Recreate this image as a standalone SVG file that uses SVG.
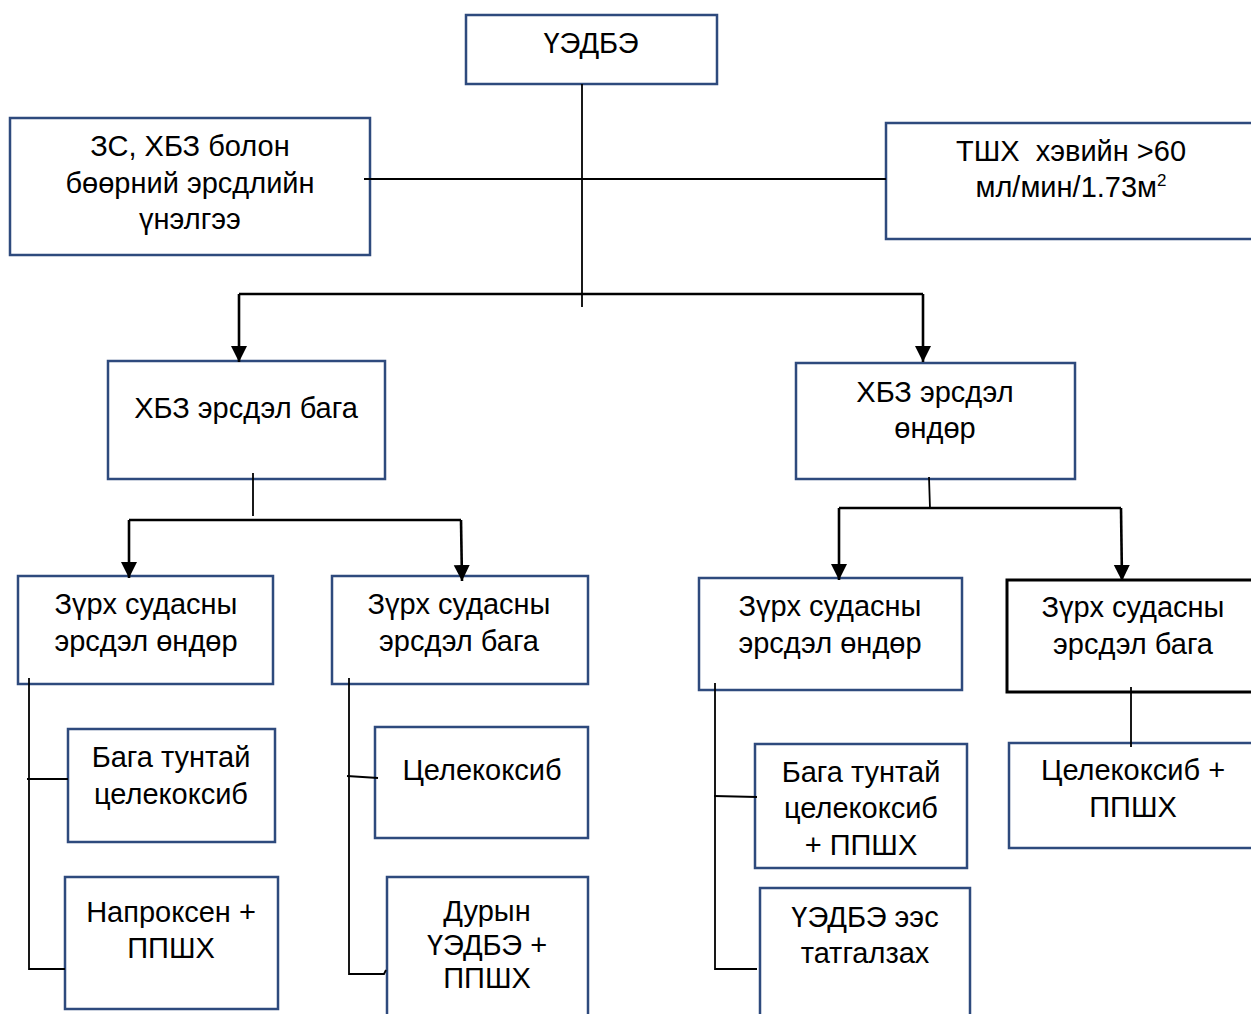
<svg xmlns="http://www.w3.org/2000/svg" width="1251" height="1014" viewBox="0 0 1251 1014">
<style>
.box{fill:#fff;stroke:#2E4A7D;stroke-width:2.5}
.bbox{fill:#fff;stroke:#000;stroke-width:3}
.t{font-family:"Liberation Sans",Arial,sans-serif;font-size:29px;fill:#000;text-anchor:middle}
.thin{fill:none;stroke:#000;stroke-width:1.8}
.thick{fill:none;stroke:#000;stroke-width:2.6}
</style>
<defs>
<marker id="arr" markerUnits="userSpaceOnUse" markerWidth="16" markerHeight="17" refX="16" refY="8" orient="auto" viewBox="0 0 16 16">
<path d="M0,0 L16,8 L0,16 z" fill="#000"/>
</marker>
</defs>
<rect width="1251" height="1014" fill="#fff"/>
<g id="n-nsaid">
<rect class="box" x="466" y="15" width="251" height="69"/>
<text class="t" x="591" y="53">ҮЭДБЭ</text>
</g>
<g id="n-assess">
<rect class="box" x="10" y="118" width="360" height="137"/>
<text class="t" x="190" y="156">ЗС, ХБЗ болон</text>
<text class="t" x="190" y="193">бөөрний эрсдлийн</text>
<text class="t" x="190" y="229">үнэлгээ</text>
</g>
<g id="n-gfr">
<rect class="box" x="886" y="123" width="380" height="116"/>
<text class="t" x="1071" y="161" xml:space="preserve">ТШХ  хэвийн &gt;60</text>
<text class="t" x="1071" y="197">мл/мин/1.73м<tspan font-size="17" dy="-11">2</tspan></text>
</g>
<g id="n-gi-low">
<rect class="box" x="108" y="361" width="277" height="118"/>
<text class="t" x="246" y="418">ХБЗ эрсдэл бага</text>
</g>
<g id="n-gi-high">
<rect class="box" x="796" y="363" width="279" height="116"/>
<text class="t" x="935" y="402">ХБЗ эрсдэл</text>
<text class="t" x="935" y="438">өндөр</text>
</g>
<g id="n-cv-high-1">
<rect class="box" x="18" y="576" width="255" height="108"/>
<text class="t" x="146" y="614">Зүрх судасны</text>
<text class="t" x="146" y="651">эрсдэл өндөр</text>
</g>
<g id="n-cv-low-1">
<rect class="box" x="332" y="576" width="256" height="108"/>
<text class="t" x="459" y="614">Зүрх судасны</text>
<text class="t" x="459" y="651">эрсдэл бага</text>
</g>
<g id="n-cv-high-2">
<rect class="box" x="699" y="578" width="263" height="112"/>
<text class="t" x="830" y="616">Зүрх судасны</text>
<text class="t" x="830" y="653">эрсдэл өндөр</text>
</g>
<g id="n-cv-low-2">
<rect class="bbox" x="1007" y="580" width="260" height="112"/>
<text class="t" x="1133" y="617">Зүрх судасны</text>
<text class="t" x="1133" y="654">эрсдэл бага</text>
</g>
<g id="n-lowdose-celecoxib">
<rect class="box" x="68" y="729" width="207" height="113"/>
<text class="t" x="171" y="767">Бага тунтай</text>
<text class="t" x="171" y="804">целекоксиб</text>
</g>
<g id="n-naproxen">
<rect class="box" x="65" y="877" width="213" height="132"/>
<text class="t" x="171" y="922">Напроксен +</text>
<text class="t" x="171" y="958">ППШХ</text>
</g>
<g id="n-celecoxib">
<rect class="box" x="375" y="727" width="213" height="111"/>
<text class="t" x="482" y="780">Целекоксиб</text>
</g>
<g id="n-any-nsaid">
<rect class="box" x="387" y="877" width="201" height="140"/>
<text class="t" x="487" y="921">Дурын</text>
<text class="t" x="487" y="955">ҮЭДБЭ +</text>
<text class="t" x="487" y="988">ППШХ</text>
</g>
<g id="n-lowdose-celecoxib-ppi">
<rect class="box" x="755" y="744" width="212" height="124"/>
<text class="t" x="861" y="782">Бага тунтай</text>
<text class="t" x="861" y="818">целекоксиб</text>
<text class="t" x="861" y="855">+ ППШХ</text>
</g>
<g id="n-avoid">
<rect class="box" x="760" y="888" width="210" height="140"/>
<text class="t" x="865" y="927">ҮЭДБЭ ээс</text>
<text class="t" x="865" y="963">татгалзах</text>
</g>
<g id="n-celecoxib-ppi">
<rect class="box" x="1009" y="743" width="260" height="105"/>
<text class="t" x="1133" y="780">Целекоксиб +</text>
<text class="t" x="1133" y="817">ППШХ</text>
</g>
<g id="connectors">
<path class="thin" d="M582 84 V307"/>
<path class="thin" d="M364 179 H886"/>
<path class="thick" d="M239 294 H923"/>
<path class="thick" d="M239 294 V362" marker-end="url(#arr)"/>
<path class="thick" d="M923 294 V362" marker-end="url(#arr)"/>
<path class="thin" d="M253 473 V516"/>
<path class="thick" d="M129 520 H461"/>
<path class="thick" d="M129 520 V578" marker-end="url(#arr)"/>
<path class="thick" d="M461 520 L462 581" marker-end="url(#arr)"/>
<path class="thin" d="M929 477 L930 509"/>
<path class="thick" d="M839 508 H1121"/>
<path class="thick" d="M839 508 V580" marker-end="url(#arr)"/>
<path class="thick" d="M1121 508 L1122 581" marker-end="url(#arr)"/>
<path class="thin" d="M29 678 V969 H65"/>
<path class="thin" d="M27 779 H68"/>
<path class="thin" d="M349 678 V974 H384 L386 970"/>
<path class="thin" d="M347 776 L378 778"/>
<path class="thin" d="M715 683 V969 H757"/>
<path class="thin" d="M714 796 L757 797"/>
<path class="thin" d="M1131 687 V747"/>
</g>
</svg>
